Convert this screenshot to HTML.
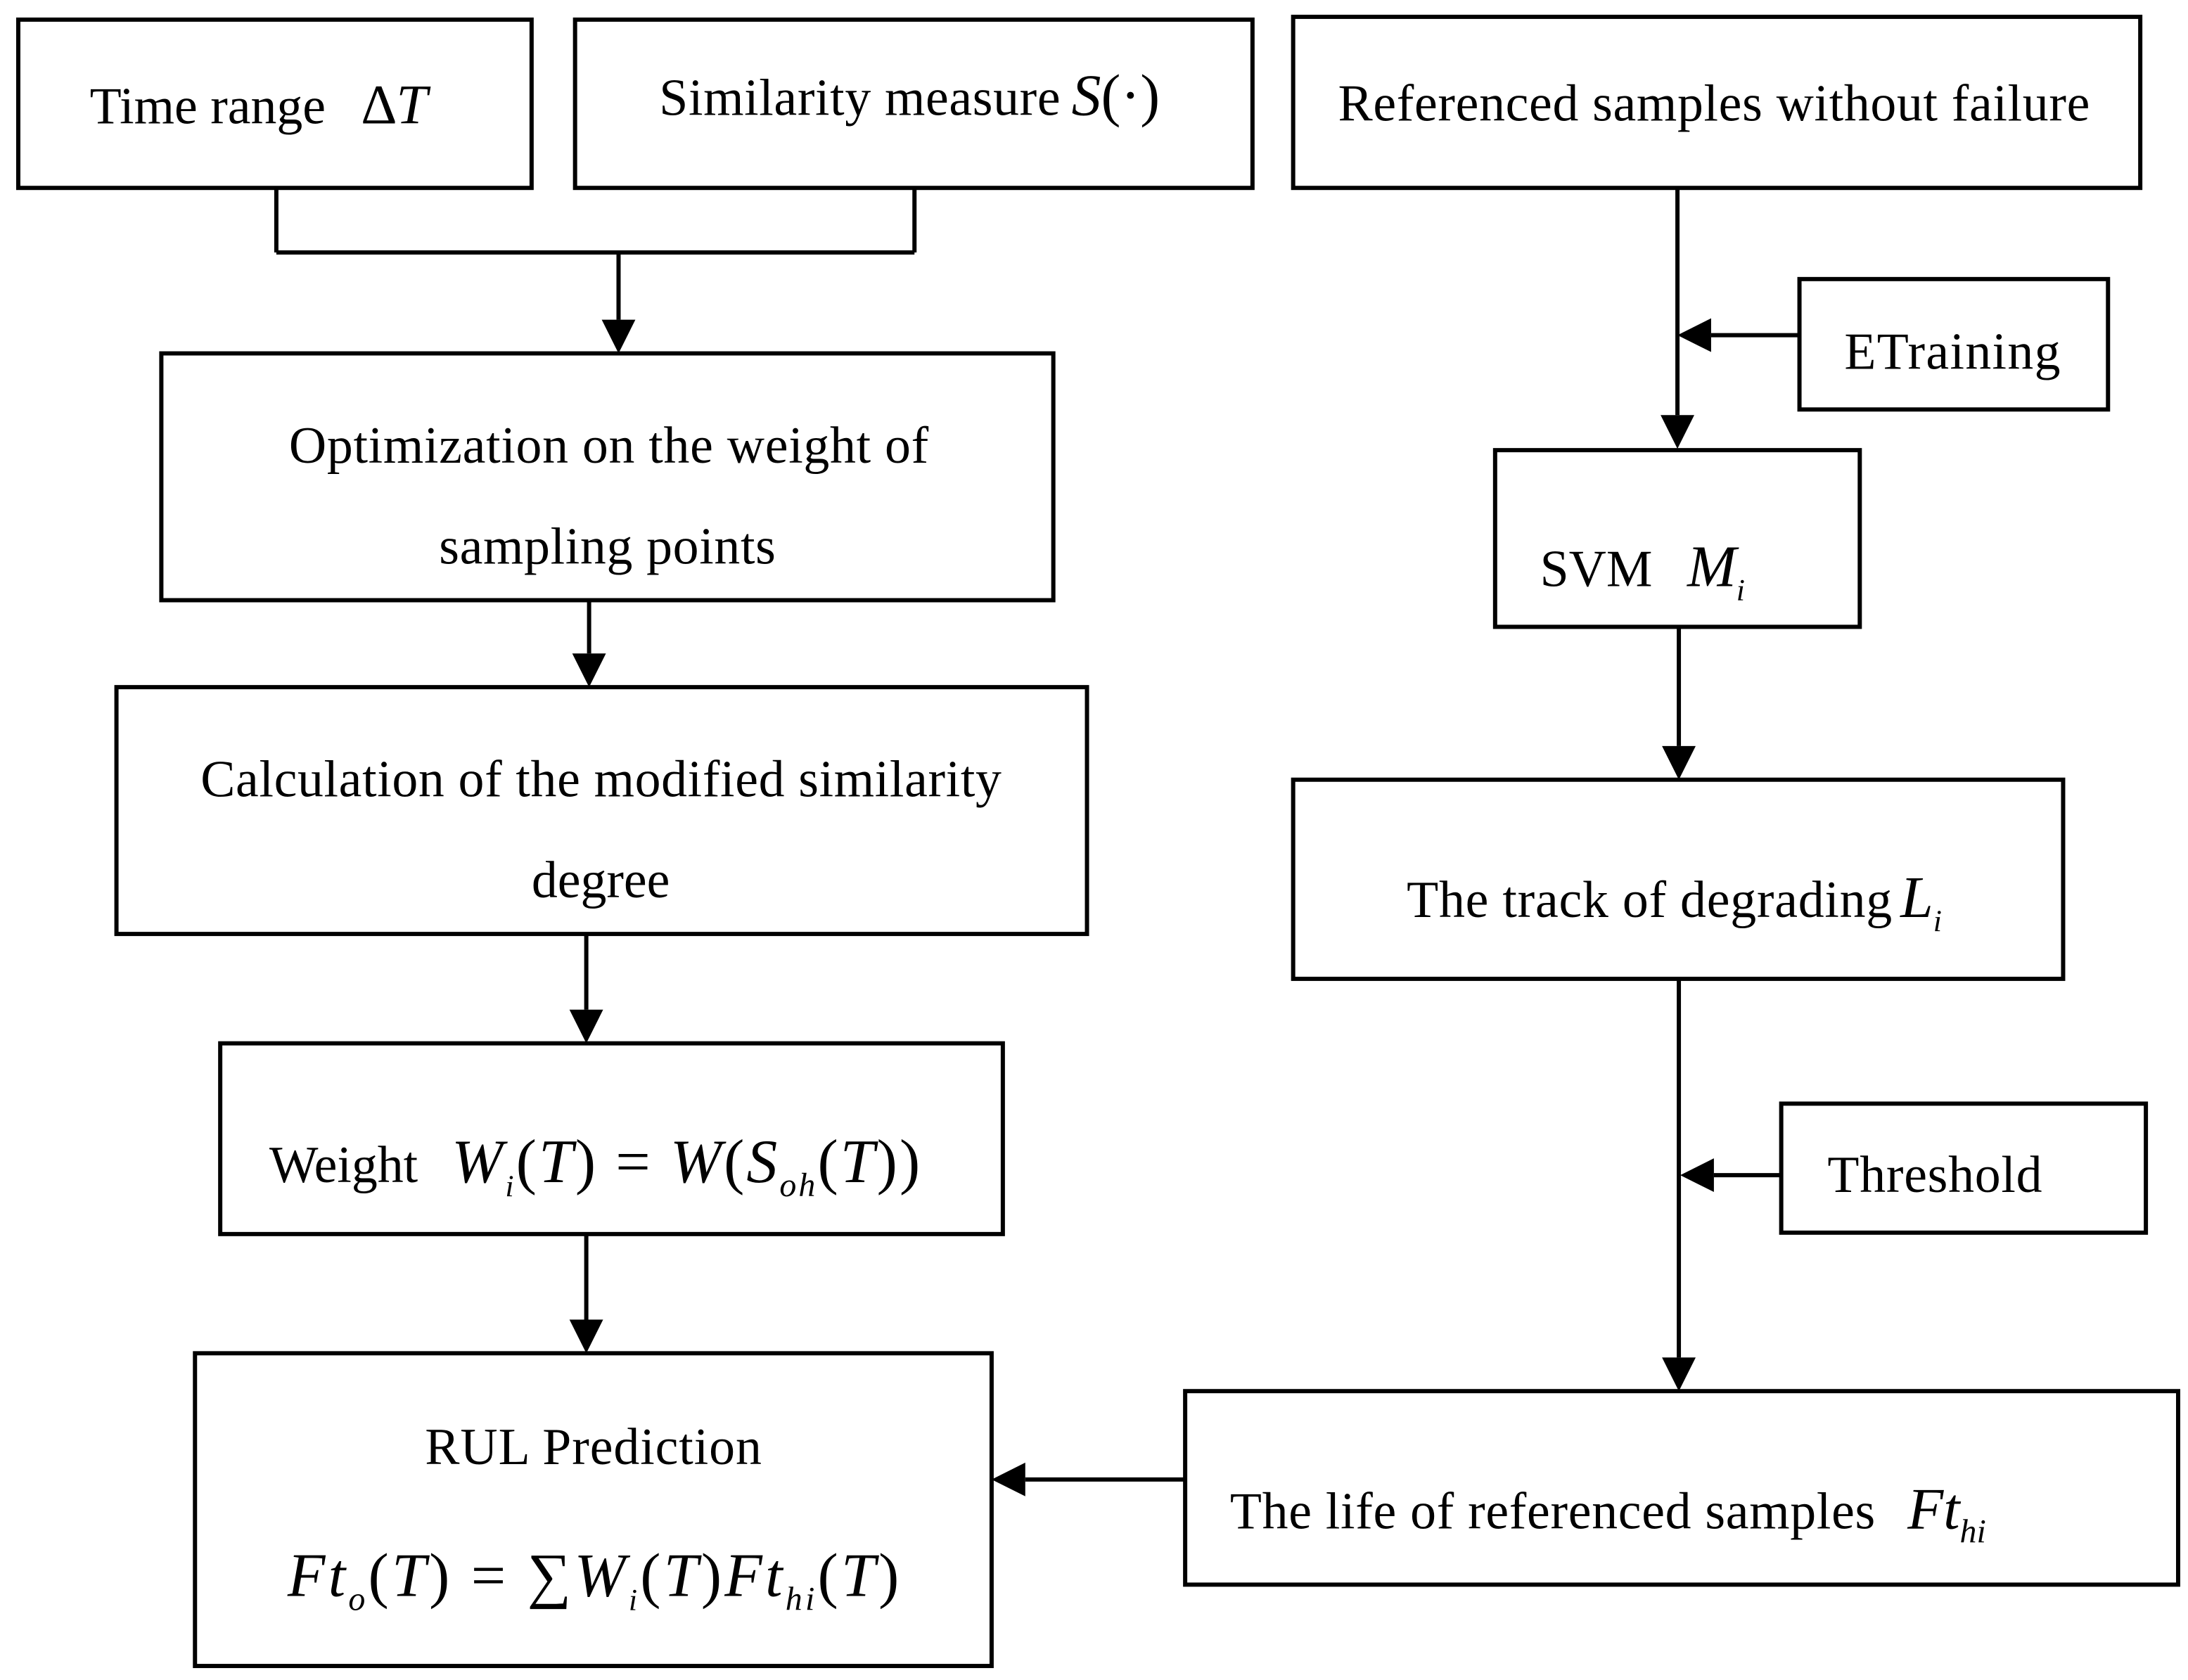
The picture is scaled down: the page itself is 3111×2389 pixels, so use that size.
<!DOCTYPE html>
<html><head><meta charset="utf-8"><style>html,body{margin:0;padding:0;background:#fff}svg{display:block}</style></head><body>
<svg width="3111" height="2389" viewBox="0 0 1560 1198" xmlns="http://www.w3.org/2000/svg" font-family="Liberation Serif, serif" font-size="37" fill="#000">
<g fill="none" stroke="#000" stroke-width="3">
<rect x="13" y="14" width="366" height="120"/>
<rect x="410" y="14" width="483" height="120"/>
<rect x="922" y="12" width="604" height="122"/>
<rect x="115" y="252" width="636" height="176"/>
<rect x="83" y="490" width="692" height="176"/>
<rect x="157" y="744" width="558" height="136"/>
<rect x="139" y="965" width="568" height="223"/>
<rect x="1283" y="199" width="220" height="93"/>
<rect x="1066" y="321" width="260" height="126"/>
<rect x="922" y="556" width="549" height="142"/>
<rect x="1270" y="787" width="260" height="92"/>
<rect x="845" y="992" width="708" height="138"/>
<path d="M197,134 V180 M652,134 V180 M197,180 H652 M441,180 V228"/>
<path d="M420,428 V466 M418,666 V720 M418,880 V941"/>
<path d="M1196,134 V296 M1283,239 H1220 M1197,447 V532 M1197,698 V968 M1270,838 H1222 M845,1055 H731"/>
</g>
<g>
<polygon points="429,228 453,228 441,252"/>
<polygon points="408,466 432,466 420,490"/>
<polygon points="406,720 430,720 418,744"/>
<polygon points="406,941 430,941 418,965"/>
<polygon points="1184,296 1208,296 1196,320"/>
<polygon points="1220,227 1220,251 1196,239"/>
<polygon points="1185,532 1209,532 1197,556"/>
<polygon points="1185,968 1209,968 1197,992"/>
<polygon points="1222,826 1222,850 1198,838"/>
<polygon points="731,1043 731,1067 707,1055"/>
</g>
<text x="64" y="88">Time range</text>
<text x="258" y="88" font-size="40" font-style="italic">∆T</text>
<text x="470" y="82" textLength="286">Similarity measure</text>
<text x="764" y="82" font-size="42"><tspan font-style="italic">S</tspan>(·)</text>
<text x="954" y="86" textLength="536">Referenced samples without failure</text>
<text x="206" y="330" textLength="456">Optimization on the weight of</text>
<text x="313" y="402" textLength="240">sampling points</text>
<text x="143" y="568" textLength="571">Calculation of the modified similarity</text>
<text x="379" y="640">degree</text>
<text x="192" y="843">Weight</text>
<text x="322" y="843" font-size="44" textLength="334"><tspan font-style="italic">W</tspan><tspan font-style="italic" font-size="22" dy="10">i</tspan><tspan dy="-10">(<tspan font-style="italic">T</tspan>) = <tspan font-style="italic">W</tspan>(<tspan font-style="italic">S</tspan></tspan><tspan font-style="italic" font-size="24" dy="10">oh</tspan><tspan dy="-10">(<tspan font-style="italic">T</tspan>))</tspan></text>
<text x="303" y="1044" textLength="240">RUL Prediction</text>
<text x="205" y="1138" font-size="44" textLength="436"><tspan font-style="italic">Ft</tspan><tspan font-style="italic" font-size="24" dy="10">o</tspan><tspan dy="-10">(<tspan font-style="italic">T</tspan>) = ∑<tspan font-style="italic">W</tspan></tspan><tspan font-style="italic" font-size="22" dy="10">i</tspan><tspan dy="-10">(<tspan font-style="italic">T</tspan>)<tspan font-style="italic">Ft</tspan></tspan><tspan font-style="italic" font-size="24" dy="10">hi</tspan><tspan dy="-10">(<tspan font-style="italic">T</tspan>)</tspan></text>
<text x="1315" y="263" textLength="154">ETraining</text>
<text x="1098" y="418">SVM</text>
<text x="1203" y="418" font-size="42" font-style="italic">M<tspan font-size="22" dy="10">i</tspan></text>
<text x="1003" y="654" textLength="346">The track of degrading</text>
<text x="1355" y="654" font-size="42" font-style="italic">L<tspan font-size="22" dy="10">i</tspan></text>
<text x="1303" y="850" textLength="153">Threshold</text>
<text x="877" y="1090" textLength="460">The life of referenced samples</text>
<text x="1360" y="1090" font-size="42" font-style="italic">Ft<tspan font-size="24" dy="10">hi</tspan></text>
</svg>
</body></html>
